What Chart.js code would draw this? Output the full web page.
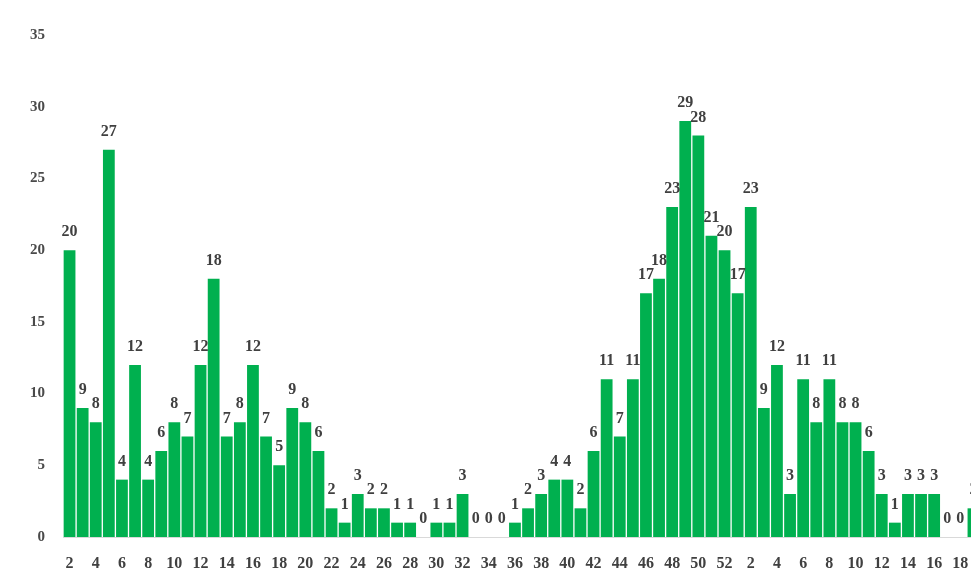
<!DOCTYPE html>
<html>
<head>
<meta charset="utf-8">
<script src="https://cdn.jsdelivr.net/npm/chart.js@4"></script>
<style>
  html, body { margin: 0; padding: 0; background: #fff; overflow: hidden; }
  #wrap { width: 990px; height: 570px; }
</style>
</head>
<body>
<div id="wrap"><canvas id="weekChart" width="990" height="570"></canvas></div>
<script>
// weeks: 2..52 of the first year, then 1..19 of the next
const weeks = [
  2, 3, 4, 5, 6, 7, 8, 9, 10, 11, 12, 13, 14, 15, 16, 17, 18, 19, 20, 21,
  22, 23, 24, 25, 26, 27, 28, 29, 30, 31, 32, 33, 34, 35, 36, 37, 38, 39, 40, 41,
  42, 43, 44, 45, 46, 47, 48, 49, 50, 51, 52,
  1, 2, 3, 4, 5, 6, 7, 8, 9, 10, 11, 12, 13, 14, 15, 16, 17, 18, 19
];
const counts = [
  20, 9, 8, 27, 4, 12, 4, 6, 8, 7, 12, 18, 7, 8, 12, 7, 5, 9, 8, 6,
  2, 1, 3, 2, 2, 1, 1, 0, 1, 1, 3, 0, 0, 0, 1, 2, 3, 4, 4, 2,
  6, 11, 7, 11, 17, 18, 23, 29, 28, 21, 20,
  17, 23, 9, 12, 3, 11, 8, 11, 8, 8, 6, 3, 1, 3, 3, 3, 0, 0, 2
];
const yTicks = [0, 5, 10, 15, 20, 25, 30, 35];

const textColor = '#404040';
const serif = "'Liberation Serif', 'Times New Roman', serif";

// value labels above each bar
const barLabels = {
  id: 'barLabels',
  afterDatasetsDraw(chart) {
    const ctx = chart.ctx;
    const meta = chart.getDatasetMeta(0);
    ctx.save();
    ctx.font = 'bold 16px ' + serif;
    ctx.fillStyle = textColor;
    ctx.textAlign = 'center';
    ctx.textBaseline = 'bottom';
    meta.data.forEach((bar, i) => {
      ctx.fillText(String(counts[i]), bar.x, bar.y - 10);
    });
    ctx.restore();
  }
};

new Chart(document.getElementById('weekChart'), {
  type: 'bar',
  data: {
    labels: weeks,
    datasets: [{
      data: counts,
      backgroundColor: '#00b04f',
      borderWidth: 0,
      barPercentage: 0.9,
      categoryPercentage: 1.0
    }]
  },
  options: {
    responsive: false,
    animation: false,
    layout: { padding: { top: 35, right: 10, left: 0, bottom: 0 } },
    plugins: { legend: { display: false }, tooltip: { enabled: false } },
    scales: {
      x: {
        grid: { display: false },
        border: { display: true, color: '#d9d9d9', width: 1 },
        ticks: {
          autoSkip: false,
          maxRotation: 0,
          padding: 9,
          color: textColor,
          font: { family: serif, size: 16, weight: 'bold' },
          callback: function(val, idx) {
            const w = weeks[idx];
            return w % 2 === 0 ? String(w) : '';
          }
        },
        afterFit(scale) { scale.height = 33; }
      },
      y: {
        min: 0,
        max: 35,
        grid: { display: false },
        border: { display: false },
        afterBuildTicks(scale) { scale.ticks = yTicks.map(v => ({ value: v })); },
        ticks: {
          padding: 10,
          color: '#4a4a4a',
          font: { family: serif, size: 15, weight: 'bold' }
        },
        afterFit(scale) { scale.width = 63; }
      }
    }
  },
  plugins: [barLabels]
});
</script>
</body>
</html>
